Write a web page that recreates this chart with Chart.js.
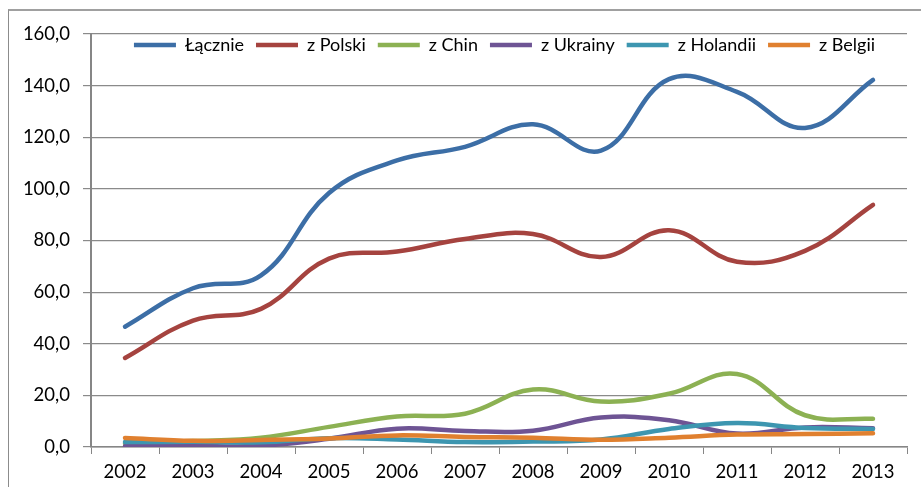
<!DOCTYPE html>
<html lang="pl">
<head>
<meta charset="utf-8">
<script src="https://cdn.jsdelivr.net/npm/chart.js@4/dist/chart.umd.min.js"></script>
<style>
	html, body { margin: 0; padding: 0; background: #fff; }
	#wrap { position: relative; width: 921px; height: 487px; }
	#frame {
		position: absolute; left: 8px; top: 9px; right: 0; bottom: 0;
		border-left: 1px solid #8c8c8c; border-top: 2px solid #a0a0a0;
	}
	#myChart { position: absolute; left: 0; top: 0; }
</style>
</head>
<body>
<div id="wrap">
	<div id="frame"></div>
	<canvas id="myChart" width="921" height="487"></canvas>
</div>
<script>
(() => {
	"use strict";

	const years = ["2002", "2003", "2004", "2005", "2006", "2007", "2008", "2009", "2010", "2011", "2012", "2013"];
	const lacznie = [46.6, 61.5, 66.5, 98.4, 111.0, 116.3, 125.0, 114.8, 142.5, 137.6, 123.6, 142.2];
	const zPolski = [34.5, 49.0, 53.5, 73.0, 75.7, 80.6, 82.5, 73.6, 84.0, 71.8, 76.0, 93.8];
	const zChin = [1.5, 2.3, 3.6, 7.8, 11.8, 12.9, 22.3, 17.6, 20.6, 28.3, 12.3, 10.9];
	const zUkrainy = [0.3, 0.3, 0.5, 3.2, 7.1, 6.2, 6.3, 11.4, 10.4, 5.2, 7.6, 7.3];
	const zHolandii = [1.9, 2.0, 1.8, 3.4, 2.9, 1.9, 2.1, 2.9, 7.0, 9.3, 7.4, 7.0];
	const zBelgii = [3.5, 2.4, 2.7, 3.3, 4.5, 3.9, 3.6, 2.8, 3.6, 4.8, 5.0, 5.3];
	const yTicks = [0, 20, 40, 60, 80, 100, 120, 140, 160];

	const series = [
		{ label: "Łącznie", data: lacznie, color: "#3c6ea6" },
		{ label: "z Polski", data: zPolski, color: "#a5433f" },
		{ label: "z Chin", data: zChin, color: "#8cb153" },
		{ label: "z Ukrainy", data: zUkrainy, color: "#6e5494" },
		{ label: "z Holandii", data: zHolandii, color: "#3d96b0" },
		{ label: "z Belgii", data: zBelgii, color: "#e0802f" },
	];

	const font = { family: "Lato", size: 18.5 };

	// legend row overlaps the top of the plot: it takes no layout height,
	// then gets its box back (it clips to it) and is nudged up/right
	const legendInPlot = {
		id: "legendInPlot",
		beforeLayout(chart) {
			const lg = chart.legend;
			if (lg && !lg._zeroHeight) {
				const fit = lg.fit;
				lg.fit = function () {
					fit.call(this);
					this.height = 0;
				};
				lg._zeroHeight = true;
			}
		},
		afterLayout(chart) {
			const lg = chart.legend;
			lg.top -= 10;
			lg.height = 40;
			lg.bottom = lg.top + lg.height;
			lg.left += 51;
			lg.right += 51;
		},
	};

	const ctx = document.getElementById("myChart");
	// eslint-disable-next-line no-unused-vars
	const myChart = new Chart(ctx, {
		type: "line",
		data: {
			labels: years,
			datasets: series.map((s, i) => ({
				label: s.label,
				data: s.data,
				borderColor: s.color,
				backgroundColor: s.color,
				borderWidth: 4.5,
				borderCapStyle: "round",
				tension: 0.4,
				pointRadius: 0,
				pointStyle: "line",
				// later series drawn on top
				order: series.length - i,
			})),
		},
		plugins: [legendInPlot],
		options: {
			responsive: false,
			animation: false,
			layout: { padding: { top: 34, right: 14, left: 0, bottom: 0 } },
			plugins: {
				legend: {
					position: "top",
					align: "center",
					labels: {
						usePointStyle: true,
						pointStyleWidth: 42,
						padding: 12,
						color: "#000",
						font: { family: "Lato", size: 18 },
						sort: (a, b) => a.datasetIndex - b.datasetIndex,
					},
				},
				tooltip: { enabled: false },
			},
			scales: {
				x: {
					offset: true,
					afterFit: (scale) => { scale.height = 40; },
					grid: {
						offset: true,
						drawOnChartArea: false,
						drawTicks: true,
						tickLength: 7,
						color: "#868686",
					},
					border: { color: "#868686", width: 1.5 },
					ticks: { color: "#000", font: font, padding: 7, maxRotation: 0 },
				},
				y: {
					min: 0,
					max: 160,
					afterFit: (scale) => { scale.width = 91; },
					afterBuildTicks: (scale) => { scale.ticks = yTicks.map((v) => ({ value: v })); },
					grid: { color: "#8a8a8a", lineWidth: 1.2, tickLength: 8 },
					border: { color: "#868686", width: 2 },
					ticks: {
						color: "#000",
						font: font,
						padding: 13,
						callback: (v) => v.toFixed(1).replace(".", ","),
					},
				},
			},
		},
	});
})();
</script>
</body>
</html>
